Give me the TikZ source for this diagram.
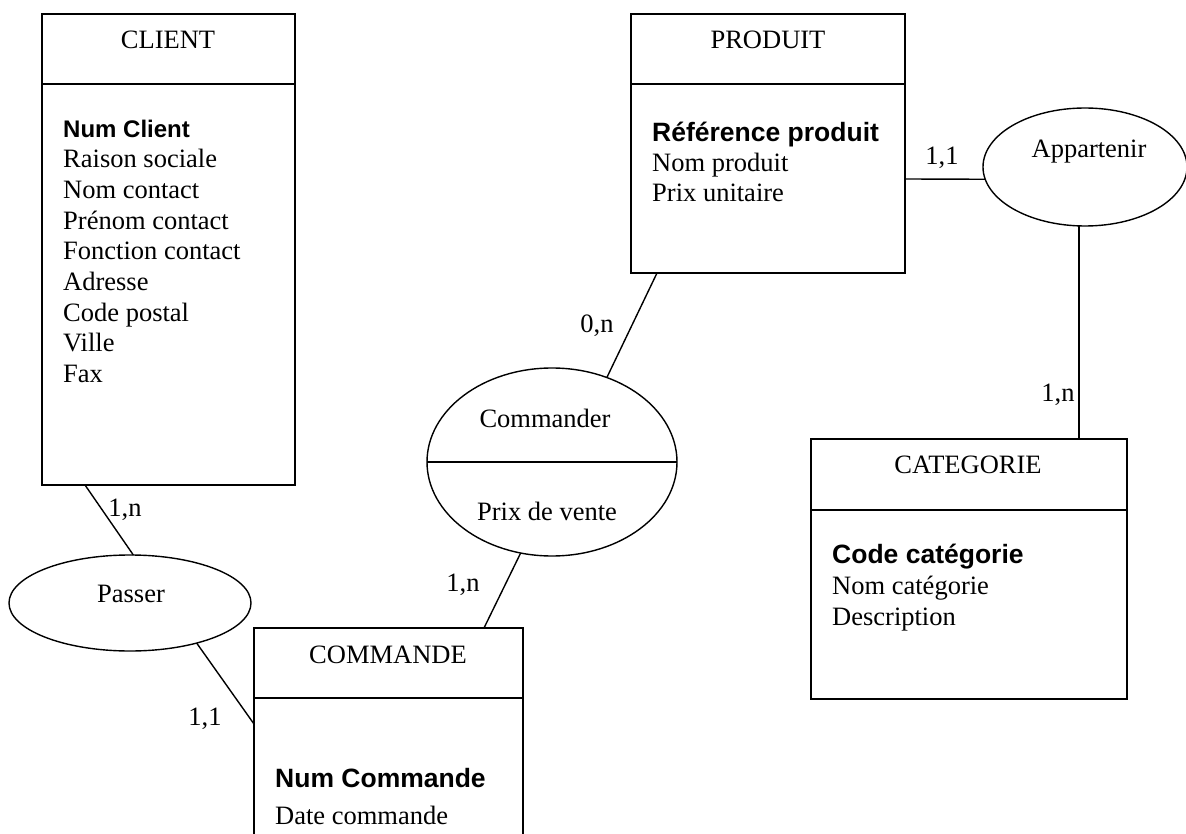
\documentclass[tikz,border=0pt]{standalone}
\usepackage{fontspec}
\setmainfont{Liberation Serif}
\newfontfamily\arialfont{Liberation Sans}
\usetikzlibrary{shapes.geometric}
\begin{document}
\begin{tikzpicture}[x=1pt,y=-1pt,
  ent/.style={draw, line width=1.6pt, rectangle, inner sep=0pt, outer sep=0pt},
  rel/.style={draw, line width=1.4pt, ellipse, inner sep=0pt, outer sep=0pt},
  lnk/.style={line width=1.4pt},
  txt/.style={font=\fontsize{26.5}{30}\selectfont, inner sep=0pt, anchor=base},
  attr/.style={txt, anchor=base west},
  keyattr/.style={attr, font=\arialfont\bfseries\fontsize{26.5}{30}\selectfont},
  smallkey/.style={attr, font=\arialfont\bfseries\fontsize{24}{30}\selectfont},
]
\useasboundingbox (0,0) rectangle (1186,834);
\fill[white] (0,0) rectangle (1186,834);

% entities
\node[ent, minimum width=253pt, minimum height=471pt] (client) at (168.5,249.5) {};
\node[ent, minimum width=274pt, minimum height=259pt] (produit) at (768,143.5) {};
\node[ent, minimum width=316pt, minimum height=260pt] (categorie) at (969,569) {};
\node[ent, minimum width=269pt, minimum height=260pt] (commande) at (388.5,758) {};

\draw[line width=1.6pt] ([yshift=-70pt]client.north west) -- ([yshift=-70pt]client.north east);
\draw[line width=1.6pt] ([yshift=-70pt]produit.north west) -- ([yshift=-70pt]produit.north east);
\draw[line width=1.6pt] ([yshift=-71pt]categorie.north west) -- ([yshift=-71pt]categorie.north east);
\draw[line width=1.6pt] ([yshift=-70pt]commande.north west) -- ([yshift=-70pt]commande.north east);

% relations
\node[rel, minimum width=204pt, minimum height=118pt] (appartenir) at (1085,167) {};
\node[rel, minimum width=250pt, minimum height=188pt] (commander) at (552,462) {};
\node[rel, minimum width=242pt, minimum height=96pt] (passer) at (130,603) {};
\draw[lnk] (commander.west) -- (commander.east);

% titles
\node[txt] (tclient) at (168,49) {CLIENT};
\node[txt] (tproduit) at (768,49) {PRODUIT};
\node[txt] (tcategorie) at (968,473) {CATEGORIE};
\node[txt] (tcommande) at (388,663) {COMMANDE};

% CLIENT attributes
\node[smallkey] (c1) at (63,138) {Num Client};
\node[attr] (c2) at (63,168) {Raison sociale};
\node[attr] (c3) at (63,199) {Nom contact};
\node[attr] (c4) at (63,230) {Prénom contact};
\node[attr] (c5) at (63,260) {Fonction contact};
\node[attr] (c6) at (63,291) {Adresse};
\node[attr] (c7) at (63,321) {Code postal};
\node[attr] (c8) at (63,352) {Ville};
\node[attr] (c9) at (63,382) {Fax};

% PRODUIT attributes
\node[keyattr] (p1) at (652,142) {Référence produit};
\node[attr] (p2) at (652,172) {Nom produit};
\node[attr] (p3) at (652,202) {Prix unitaire};

% CATEGORIE attributes
\node[keyattr] (k1) at (832,563) {Code catégorie};
\node[attr] (k2) at (832,594) {Nom catégorie};
\node[attr] (k3) at (832,625) {Description};

% COMMANDE attributes
\node[keyattr] (m1) at (275,787) {Num Commande};
\node[attr] (m2) at (275,824) {Date commande};

% relation texts
\node[txt] (tappartenir) at (1089,158) {Appartenir};
\node[txt] (tcommander) at (545,427) {Commander};
\node[txt] (tprix) at (547,520) {Prix de vente};
\node[txt] (tpasser) at (131,602) {Passer};

% connectors
\draw[lnk] ([yshift=-165pt]produit.north east) -- (appartenir.-173);
\draw[lnk] ([xshift=268pt]categorie.north west) coordinate (catTop) -- (catTop |- appartenir.south);
\draw[lnk] ([xshift=26pt]produit.south west) -- (commander.57);
\draw[lnk] (commander.-109) -- ([xshift=230pt]commande.north west);
\draw[lnk] ([xshift=43pt]client.south west) -- (passer.86);
\draw[lnk] (passer.-31) -- ([yshift=-96pt]commande.north west);

% cardinalities
\node[txt] (card1) at (942,165) {1,1};
\node[txt] (card2) at (1058,401) {1,n};
\node[txt] (card3) at (597,332) {0,n};
\node[txt] (card4) at (463,591) {1,n};
\node[txt] (card5) at (125,516) {1,n};
\node[txt] (card6) at (205,725) {1,1};
\end{tikzpicture}
\end{document}
